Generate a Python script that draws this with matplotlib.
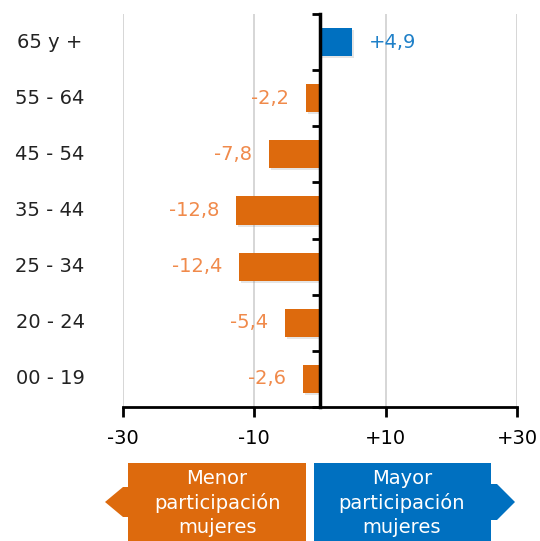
import matplotlib.pyplot as plt
import matplotlib.patheffects as pe
import matplotlib.transforms as mtransforms
from matplotlib.patches import Polygon
import numpy as np

categories = ["65 y +", "55 - 64", "45 - 54", "35 - 44", "25 - 34", "20 - 24", "00 - 19"]
values = [4.9, -2.2, -7.8, -12.8, -12.4, -5.4, -2.6]
value_labels = ["+4,9", "-2,2", "-7,8", "-12,8", "-12,4", "-5,4", "-2,6"]
xticks = [-30, -10, 10, 30]
xtick_labels = ["-30", "-10", "+10", "+30"]

ORANGE = "#DD6A0D"
BLUE = "#0070C0"
ORANGE_TXT = "#F08A4B"
BLUE_TXT = "#1F80C8"
FS = 14

W, H = 540, 541
fig = plt.figure(figsize=(W / 100, H / 100), dpi=100)
ax = fig.add_axes([123 / W, 1 - 407 / H, 394 / W, 393 / H])

y = np.arange(len(categories))
colors = [BLUE if v > 0 else ORANGE for v in values]
bars = ax.barh(y, values, height=0.5, color=colors, zorder=3)
for b in bars:
    b.set_path_effects([pe.SimplePatchShadow(offset=(1.5, -1.5), shadow_rgbFace="gray", alpha=0.2), pe.Normal()])

for yi, v, lab in zip(y, values, value_labels):
    if v > 0:
        ax.annotate(lab, (v, yi), xytext=(12, 0), textcoords="offset points",
                    ha="left", va="center", fontsize=FS, color=BLUE_TXT)
    else:
        ax.annotate(lab, (v, yi), xytext=(-12, 0), textcoords="offset points",
                    ha="right", va="center", fontsize=FS, color=ORANGE_TXT)

ax.set_xlim(-30, 30)
ax.set_ylim(len(categories) - 0.5, -0.5)

ax.spines["top"].set_visible(False)
ax.spines["right"].set_visible(False)
ax.spines["left"].set_position(("data", 0))
ax.spines["left"].set_linewidth(2.5)
ax.spines["left"].set_zorder(4)
ax.spines["bottom"].set_linewidth(2)

ax.set_yticks(np.arange(-0.5, len(categories), 1.0))
ax.set_yticklabels([])
ax.tick_params(axis="y", direction="out", length=6, width=2, color="black")
ax.set_xticks(xticks)
ax.set_xticklabels(xtick_labels, fontsize=FS)
ax.tick_params(axis="x", direction="out", length=7, width=2, pad=9)
ax.grid(axis="x", color="#D0D0D0", linewidth=1.2, zorder=0)

trans = mtransforms.blended_transform_factory(ax.transAxes, ax.transData)
for yi, c in zip(y, categories):
    ax.text(-0.185, yi, c, transform=trans, ha="center", va="center", fontsize=FS, color="#222222")

def px(points):
    return [(x / W, 1 - yy / H) for x, yy in points]

orange_shape = [(306, 463), (128, 463), (128, 487), (123, 487), (105, 502), (123, 517),
                (128, 517), (128, 545), (306, 545)]
blue_shape = [(314, 463), (491, 463), (491, 484), (497, 484), (515, 502), (497, 520),
              (491, 520), (491, 545), (314, 545)]
fig.add_artist(Polygon(px(orange_shape), closed=True, facecolor=ORANGE, edgecolor="none",
                       transform=fig.transFigure))
fig.add_artist(Polygon(px(blue_shape), closed=True, facecolor=BLUE, edgecolor="none",
                       transform=fig.transFigure))
fig.text(217 / W, 1 - 503 / H, "Menor\nparticipación\nmujeres", ha="center", va="center",
         fontsize=FS, color="white", linespacing=1.35)
fig.text(402 / W, 1 - 503 / H, "Mayor\nparticipación\nmujeres", ha="center", va="center",
         fontsize=FS, color="white", linespacing=1.35)

fig.savefig("out.png", dpi=100)
